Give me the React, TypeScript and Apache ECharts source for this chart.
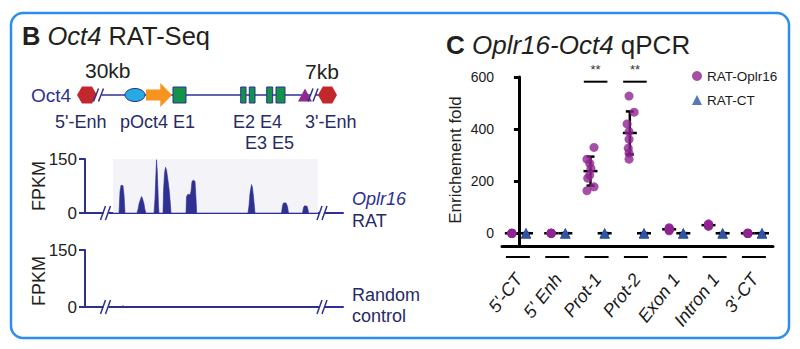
import React, { useEffect, useRef } from 'react';
import * as echarts from 'echarts';

// ---------------- Panel B: Oct4 RAT-Seq ----------------
// gene diagram features, positions in diagram units along the locus
const geneFeatures = [
  { kind: 'line', from: 12, to: 235 },
  { kind: 'enhancer', from: -8, to: 12 },
  { kind: 'break', from: 14.5, to: 14.5 },
  { kind: 'promoter', from: 40, to: 60 },
  { kind: 'tss', from: 61, to: 87 },
  { kind: 'exon', from: 88, to: 101 },
  { kind: 'exon', from: 155.7, to: 161 },
  { kind: 'exon', from: 164.3, to: 170 },
  { kind: 'exon', from: 181.7, to: 187.7 },
  { kind: 'exon', from: 191, to: 200 },
  { kind: 'insulator', from: 213, to: 227 },
  { kind: 'break', from: 229, to: 229 },
  { kind: 'enhancer', from: 233, to: 252 },
];

// RAT-Seq signal (position, FPKM)
const ratSignal = [
  [0, 0], [34, 0], [35, 60], [36, 77], [38, 76], [39, 50], [40, 0],
  [52, 0], [53, 10], [54, 25], [55.5, 38], [56.5, 46], [57.5, 40], [59, 25], [60, 8], [61, 0],
  [69, 0], [70, 40], [70.8, 100], [71.5, 148], [72.2, 120], [73, 60], [73.5, 20], [74, 0],
  [78, 0], [78.5, 60], [79.5, 110], [80.5, 127], [81.5, 120], [82.5, 100], [83.5, 80], [84.5, 55], [85.5, 20], [86, 0],
  [101, 0], [101.5, 45], [102.5, 51], [104, 52], [105, 50], [106, 60], [107, 88], [108.5, 91], [110, 88], [111, 40], [111.7, 0],
  [163, 0], [164, 20], [165, 55], [166.5, 79], [167.5, 70], [168.5, 45], [169.5, 15], [170, 0],
  [196.5, 0], [197.5, 20], [198.5, 28], [201, 28], [202.5, 18], [203.5, 0],
  [217.5, 0], [218.5, 15], [219.5, 20], [222, 19], [223, 10], [223.5, 0],
  [258, 0],
];
const controlSignal = [[0, 0], [36.5, 0], [38, 4], [39.5, 0], [144, 0], [145, 2.5], [146, 0], [258, 0]];
const trackBreaks = [21.5, 238];
const shadedRegion = [28, 233];
const fpkmTicks = [0, 150];

// ---------------- Panel C: Oplr16-Oct4 qPCR ----------------
const categories = ["5'-CT", "5' Enh", 'Prot-1', 'Prot-2', 'Exon 1', 'Intron 1', "3'-CT"];
const oplr16Values = [
  [0, 1, 0, 2, 1, 0],
  [1, 0, 2, 1, 0, 1],
  [330, 285, 269, 250, 224, 212, 179, 164],
  [527, 465, 420, 390, 361, 327, 308, 285],
  [10, 14, 17, 20, 22, 13],
  [27, 31, 34, 37, 30, 33],
  [0, 1, 1, 0, 2, 0],
];
const oplr16Jitter = [
  [], [],
  [0.09, -0.09, -0.02, 0.01, -0.02, -0.07, 0.09, -0.09],
  [-0.02, 0.11, -0.07, -0.02, -0.02, -0.04, -0.02, -0.02],
  [], [], [],
];
const ctValues = [
  [1, 0, 2, 1, 0, 1],
  [0, 1, 1, 2, 0, 1],
  [1, 2, 0, 1, 1, 0],
  [0, 1, 2, 1, 0, 1],
  [1, 0, 1, 2, 1, 0],
  [2, 1, 0, 1, 0, 1],
  [1, 0, 2, 1, 0, 1],
];
const yTicks = [0, 200, 400, 600];
const significantGroups = [2, 3];
const significanceLevel = 582;
const significanceLabel = '**';

const SANS = "'Liberation Sans', Arial, Helvetica, sans-serif";
const NAVY = '#2e3192';
const DARKNAVY = '#262a66';
const PURPLE = '#8e2490';
const BLUE = '#2f54a3';
const INK = '#231f20';
const SIDE = 0.18;

function meanSd(a: number[]) {
  const m = a.reduce((s, v) => s + v, 0) / a.length;
  const sd = Math.sqrt(a.reduce((s, v) => s + (v - m) * (v - m), 0) / (a.length - 1));
  return [m, sd];
}

function txt(x: number, y: number, text: string, o: any = {}) {
  return {
    type: 'text', x, y, rotation: o.rotation || 0, z: 10,
    style: {
      text, fontFamily: o.family || SANS, fontSize: o.size || 18,
      fontStyle: o.italic ? 'italic' : 'normal', fontWeight: o.bold ? 'bold' : 'normal',
      fill: o.color || INK, align: o.align || 'left', verticalAlign: 'middle',
    },
  };
}

function breakMark(x: number, y: number, h: number, fill = '#fff') {
  return {
    type: 'group',
    children: [
      { type: 'rect', shape: { x: x - 3, y: y - 3, width: 5, height: 6 }, style: { fill } },
      { type: 'line', shape: { x1: x - 6, y1: y + h / 2, x2: x - 1, y2: y - h / 2 }, style: { stroke: NAVY, lineWidth: 1.5 } },
      { type: 'line', shape: { x1: x - 1, y1: y + h / 2, x2: x + 4, y2: y - h / 2 }, style: { stroke: NAVY, lineWidth: 1.5 } },
    ],
  };
}

export default function App() {
  const ref = useRef<HTMLDivElement>(null);
  useEffect(() => {
    const chart = echarts.init(ref.current!, null, { renderer: 'svg' });

    const trackX = (gi: number) => ({
      gridIndex: gi, type: 'value', min: 0, max: 258,
      axisLine: { show: true, onZero: false, lineStyle: { color: NAVY, width: 2 } },
      axisTick: { show: false }, axisLabel: { show: false }, splitLine: { show: false },
    });
    const trackY = (gi: number) => ({
      gridIndex: gi, type: 'value', min: 0, max: 150, interval: 150,
      axisLine: { show: true, lineStyle: { color: NAVY, width: 2 } },
      axisTick: { show: true, length: 6, lineStyle: { color: NAVY, width: 2 } },
      axisLabel: { fontSize: 17, color: INK, fontFamily: SANS, margin: 8, customValues: fpkmTicks },
      splitLine: { show: false },
    });

    const errorData: any[] = [];
    const purplePts: any[] = [];
    const bluePts: any[] = [];
    categories.forEach((_, g) => {
      const [m1, s1] = meanSd(oplr16Values[g]);
      const [m2, s2] = meanSd(ctValues[g]);
      errorData.push([g - SIDE, m1, s1]);
      errorData.push([g + SIDE, m2, s2]);
      oplr16Values[g].forEach((v, j) => purplePts.push([g - SIDE + (oplr16Jitter[g][j] || 0), v]));
      ctValues[g].forEach((v) => bluePts.push([g + SIDE, v]));
    });

    const option: any = {
      animation: false,
      grid: [
        { left: 85, top: 80, width: 258, height: 30 },
        { left: 85, top: 159, width: 258, height: 54 },
        { left: 85, top: 250, width: 258, height: 57 },
        { left: 502, top: 77, width: 271, height: 169 },
      ],
      xAxis: [
        { gridIndex: 0, type: 'value', min: 0, max: 258, show: false },
        trackX(1),
        trackX(2),
        {
          gridIndex: 3, type: 'value', min: -0.43, max: 6.46,
          axisLine: { show: true, onZero: false, lineStyle: { color: '#000', width: 3 } },
          axisTick: { show: false }, splitLine: { show: false },
          axisLabel: {
            customValues: categories.map((_, i) => i),
            formatter: (v: number) => categories[Math.round(v)],
            rotate: 52, margin: 30, fontStyle: 'italic', fontSize: 18, color: '#1a1a1a', fontFamily: SANS,
          },
        },
      ],
      yAxis: [
        { gridIndex: 0, type: 'value', min: -1, max: 1, show: false },
        trackY(1),
        trackY(2),
        {
          gridIndex: 3, type: 'value', min: -48, max: 600,
          axisLine: { show: true, lineStyle: { color: '#000', width: 3 } },
          axisTick: { show: true, length: 5, lineStyle: { color: '#000', width: 3 }, customValues: yTicks },
          axisLabel: { customValues: yTicks, fontSize: 14, fontFamily: SANS, color: '#1a1a1a', margin: 8 },
          splitLine: { show: false },
        },
      ],
      legend: {
        data: ['RAT-Oplr16', 'RAT-CT'], orient: 'vertical', left: 687, top: 64,
        itemWidth: 10, itemHeight: 10, itemGap: 10,
        textStyle: { fontSize: 13.5, fontFamily: SANS, color: '#1a1a1a' },
      },
      graphic: [
        { type: 'rect', shape: { x: 11, y: 13, width: 778, height: 325, r: 12 }, style: { fill: 'transparent', stroke: '#2b8df2', lineWidth: 2.5 }, z: 0 },
        {
          type: 'text', x: 22, y: 36, z: 10,
          style: {
            text: '{b|B} {i|Oct4} RAT-Seq', fontFamily: SANS, fontSize: 25.5, fill: INK, verticalAlign: 'middle',
            rich: {
              b: { fontWeight: 'bold', fontSize: 25.5, fontFamily: SANS, fill: INK },
              i: { fontStyle: 'italic', fontSize: 25.5, fontFamily: SANS, fill: INK },
            },
          },
        },
        {
          type: 'text', x: 446, y: 45, z: 10,
          style: {
            text: '{b|C} {i|Oplr16-Oct4} qPCR', fontFamily: SANS, fontSize: 26, fill: INK, verticalAlign: 'middle',
            rich: {
              b: { fontWeight: 'bold', fontSize: 26, fontFamily: SANS, fill: INK },
              i: { fontStyle: 'italic', fontSize: 26, fontFamily: SANS, fill: INK },
            },
          },
        },
        txt(85, 70, '30kb', { size: 21 }),
        txt(305, 71, '7kb', { size: 21 }),
        txt(31, 95, 'Oct4', { size: 19, color: NAVY }),
        txt(55, 122, "5'-Enh", { color: DARKNAVY }),
        txt(120, 122, 'pOct4 E1', { color: DARKNAVY }),
        txt(233, 122, 'E2 E4', { color: DARKNAVY }),
        txt(305, 122, "3'-Enh", { color: DARKNAVY }),
        txt(245, 143, 'E3 E5', { color: DARKNAVY }),
        txt(39, 186, 'FPKM', { rotation: Math.PI / 2, align: 'center' }),
        txt(39, 281, 'FPKM', { rotation: Math.PI / 2, align: 'center' }),
        txt(352, 199, 'Oplr16', { italic: true, color: NAVY }),
        txt(352, 221, 'RAT', { color: DARKNAVY }),
        txt(352, 295, 'Random', { color: DARKNAVY }),
        txt(352, 316, 'control', { color: DARKNAVY }),
        txt(455, 160, 'Enrichement fold', { rotation: Math.PI / 2, align: 'center', size: 17 }),
      ],
      series: [
        {
          type: 'custom', xAxisIndex: 0, yAxisIndex: 0,
          data: geneFeatures.map((f) => [f.from, f.to]),
          encode: { x: [0, 1] },
          renderItem: (params: any, api: any) => {
            const f = geneFeatures[params.dataIndex];
            const a = api.coord([api.value(0), 0]);
            const b = api.coord([api.value(1), 0]);
            const x0 = a[0], x1 = b[0], cy = a[1], w = x1 - x0, cx = (x0 + x1) / 2;
            switch (f.kind) {
              case 'line':
                return { type: 'line', shape: { x1: x0, y1: cy, x2: x1, y2: cy }, style: { stroke: NAVY, lineWidth: 1.5 } };
              case 'enhancer':
                return {
                  type: 'polygon',
                  shape: { points: [[x0, cy], [x0 + w * 0.25, cy - 8.5], [x1 - w * 0.25, cy - 8.5], [x1, cy], [x1 - w * 0.25, cy + 8.5], [x0 + w * 0.25, cy + 8.5]] },
                  style: { fill: '#c1272d' },
                };
              case 'break':
                return breakMark(cx, cy, 13);
              case 'promoter':
                return { type: 'ellipse', shape: { cx, cy, rx: w / 2, ry: 6.5 }, style: { fill: '#27aae1', stroke: NAVY, lineWidth: 1 } };
              case 'tss': {
                const n = x0 + w * 0.55;
                return {
                  type: 'polygon',
                  shape: { points: [[x0, cy - 5.5], [n, cy - 5.5], [n, cy - 12], [x1, cy], [n, cy + 12], [n, cy + 5.5], [x0, cy + 5.5]] },
                  style: { fill: '#f7941d' },
                };
              }
              case 'exon':
                return { type: 'rect', shape: { x: x0, y: cy - 8, width: w, height: 16 }, style: { fill: '#139249', stroke: NAVY, lineWidth: 1 } };
              case 'insulator':
                return { type: 'polygon', shape: { points: [[x0, cy + 6.5], [cx, cy - 6.5], [x1, cy + 6.5]] }, style: { fill: '#92278f' } };
            }
            return null;
          },
          z: 3,
        },
        {
          type: 'line', xAxisIndex: 1, yAxisIndex: 1, data: ratSignal, symbol: 'none',
          lineStyle: { color: NAVY, width: 0.6 }, areaStyle: { color: NAVY, opacity: 1 },
          markArea: { silent: true, itemStyle: { color: '#f4f4f8' }, data: [[{ xAxis: shadedRegion[0] }, { xAxis: shadedRegion[1] }]] },
          z: 2,
        },
        {
          type: 'line', xAxisIndex: 2, yAxisIndex: 2, data: controlSignal, symbol: 'none',
          lineStyle: { color: NAVY, width: 0.6 }, areaStyle: { color: NAVY, opacity: 1 }, z: 2,
        },
        ...[1, 2].map((gi) => ({
          type: 'custom', xAxisIndex: gi, yAxisIndex: gi,
          data: trackBreaks.map((p) => [p, 0]),
          encode: { x: 0, y: 1 },
          renderItem: (params: any, api: any) => {
            const p = api.coord([api.value(0), 0]);
            return breakMark(p[0], p[1], 14);
          },
          z: 5,
        })),
        {
          type: 'custom', xAxisIndex: 3, yAxisIndex: 3,
          data: categories.map((_, i) => [i, -48]),
          encode: { x: 0, y: 1 },
          renderItem: (params: any, api: any) => {
            const c = api.coord([api.value(0), api.value(1)]);
            return { type: 'line', shape: { x1: c[0] - 13, y1: c[1] + 11, x2: c[0] + 11, y2: c[1] + 11 }, style: { stroke: '#000', lineWidth: 2 } };
          },
          z: 2,
        },
        {
          type: 'custom', xAxisIndex: 3, yAxisIndex: 3,
          data: errorData,
          encode: { x: 0, y: 1 },
          renderItem: (params: any, api: any) => {
            const x = api.value(0), m = api.value(1), s = api.value(2);
            const top = api.coord([x, m + s]);
            const bot = api.coord([x, m - s]);
            const mid = api.coord([x, m]);
            const st = { stroke: '#000', lineWidth: 2.5 };
            return {
              type: 'group',
              children: [
                { type: 'line', shape: { x1: top[0], y1: top[1], x2: bot[0], y2: bot[1] }, style: st },
                { type: 'line', shape: { x1: top[0] - 4, y1: top[1], x2: top[0] + 4, y2: top[1] }, style: st },
                { type: 'line', shape: { x1: bot[0] - 4, y1: bot[1], x2: bot[0] + 4, y2: bot[1] }, style: st },
                { type: 'line', shape: { x1: mid[0] - 7, y1: mid[1], x2: mid[0] + 7, y2: mid[1] }, style: st },
              ],
            };
          },
          z: 2,
        },
        {
          name: 'RAT-Oplr16', type: 'scatter', xAxisIndex: 3, yAxisIndex: 3, data: purplePts,
          symbol: 'circle', symbolSize: 9, itemStyle: { color: PURPLE }, z: 3,
        },
        {
          name: 'RAT-CT', type: 'scatter', xAxisIndex: 3, yAxisIndex: 3, data: bluePts,
          symbol: 'triangle', symbolSize: 10, itemStyle: { color: BLUE }, z: 3,
        },
        {
          type: 'custom', xAxisIndex: 3, yAxisIndex: 3,
          data: significantGroups.map((g) => [g, significanceLevel]),
          encode: { x: 0, y: 1 },
          renderItem: (params: any, api: any) => {
            const g = api.value(0), lv = api.value(1);
            const p0 = api.coord([g - 0.35, lv]);
            const p1 = api.coord([g + 0.25, lv]);
            return {
              type: 'group',
              children: [
                { type: 'line', shape: { x1: p0[0], y1: p0[1], x2: p1[0], y2: p1[1] }, style: { stroke: '#000', lineWidth: 2 } },
                { type: 'text', x: (p0[0] + p1[0]) / 2, y: p0[1] - 12, style: { text: significanceLabel, fontSize: 13, fontFamily: SANS, fill: '#333', align: 'center', verticalAlign: 'middle' } },
              ],
            };
          },
          z: 4,
        },
      ],
    };
    chart.setOption(option);
    return () => chart.dispose();
  }, []);
  return <div ref={ref} style={{ position: 'absolute', left: 0, top: 0, width: 800, height: 349, background: '#fff' }} />;
}
